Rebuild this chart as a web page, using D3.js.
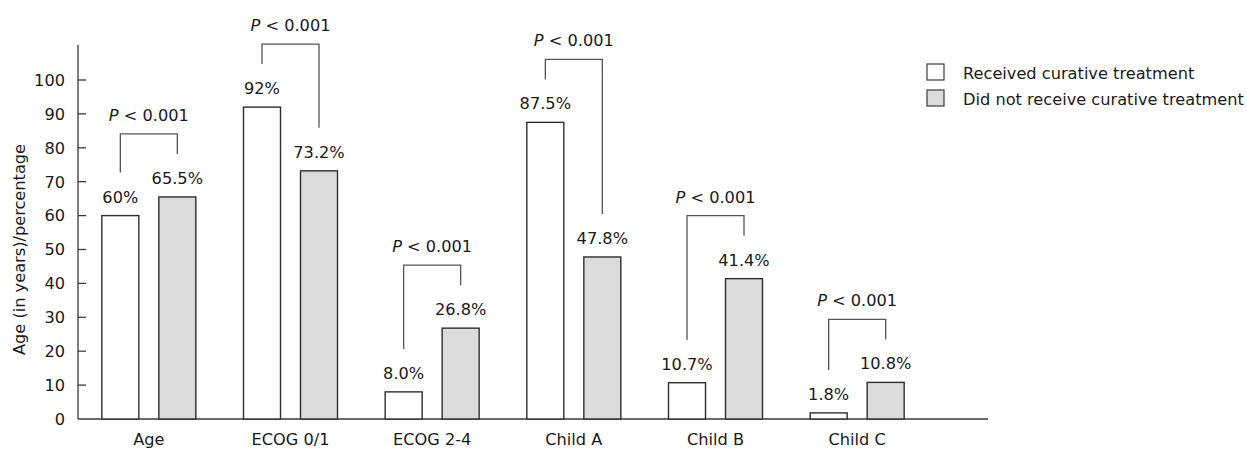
<!DOCTYPE html>
<html>
<head>
<meta charset="utf-8">
<script src="https://cdn.jsdelivr.net/npm/d3@7"></script>
<style>
  body { margin: 0; background: #fff; }
  text { font-family: "DejaVu Sans", Verdana, sans-serif; fill: #1a1a1a; }
</style>
</head>
<body>
<svg id="chart" width="1247" height="450"></svg>
<script>
const categories = ["Age", "ECOG 0/1", "ECOG 2-4", "Child A", "Child B", "Child C"];
const received = [60, 92, 8.0, 87.5, 10.7, 1.8];
const notReceived = [65.5, 73.2, 26.8, 47.8, 41.4, 10.8];
const receivedLabels = ["60%", "92%", "8.0%", "87.5%", "10.7%", "1.8%"];
const notReceivedLabels = ["65.5%", "73.2%", "26.8%", "47.8%", "41.4%", "10.8%"];
const pLabels = ["< 0.001", "< 0.001", "< 0.001", "< 0.001", "< 0.001", "< 0.001"];
const seriesNames = ["Received curative treatment", "Did not receive curative treatment"];
const yTicks = [0, 10, 20, 30, 40, 50, 60, 70, 80, 90, 100];

const svg = d3.select("#chart");
const fontSize = 16.2;
const axisColor = "#3a3a3a";
const fills = ["#ffffff", "#dadbda"];

const margin = { left: 78, top: 45, baseline: 419 };
const y = d3.scaleLinear().domain([0, 100]).range([margin.baseline, 80]);
const x = d3.scaleBand().domain(categories).range([78, 928]);
const barW = 37, gap = 20;

const data = categories.map((c, i) => ({
  cat: c,
  vals: [received[i], notReceived[i]],
  labels: [receivedLabels[i], notReceivedLabels[i]],
  p: pLabels[i]
}));

const barX = (d, j) => x(d.cat) + x.bandwidth() / 2 - gap / 2 - barW + j * (barW + gap);

// axes
svg.append("line")
  .attr("x1", margin.left).attr("x2", margin.left)
  .attr("y1", margin.top).attr("y2", margin.baseline)
  .attr("stroke", axisColor).attr("stroke-width", 1.3);
svg.append("line")
  .attr("x1", margin.left).attr("x2", 988)
  .attr("y1", margin.baseline).attr("y2", margin.baseline)
  .attr("stroke", axisColor).attr("stroke-width", 1.3);

const yAxis = svg.append("g");
yAxis.selectAll("line").data(yTicks.filter(t => t > 0)).join("line")
  .attr("x1", margin.left).attr("x2", margin.left + 8)
  .attr("y1", d => y(d)).attr("y2", d => y(d))
  .attr("stroke", axisColor).attr("stroke-width", 1.3);
yAxis.selectAll("text").data(yTicks).join("text")
  .attr("x", 65).attr("y", d => y(d)).attr("dy", "0.36em")
  .attr("text-anchor", "end").attr("font-size", fontSize)
  .text(d => d);

svg.append("text")
  .attr("transform", `translate(25,${(y(0) + y(100)) / 2}) rotate(-90)`)
  .attr("text-anchor", "middle").attr("font-size", fontSize)
  .text("Age (in years)/percentage");

svg.append("g").selectAll("text").data(categories).join("text")
  .attr("x", d => x(d) + x.bandwidth() / 2).attr("y", 445)
  .attr("text-anchor", "middle").attr("font-size", fontSize)
  .text(d => d);

// bars
const groups = svg.append("g").selectAll("g").data(data).join("g");
groups.selectAll("rect").data(d => d.vals.map((v, j) => ({ d, v, j }))).join("rect")
  .attr("x", o => barX(o.d, o.j))
  .attr("y", o => y(o.v))
  .attr("width", barW)
  .attr("height", o => y(0) - y(o.v))
  .attr("fill", o => fills[o.j])
  .attr("stroke", "#2e2e2e").attr("stroke-width", 1.4);

groups.selectAll("text.val").data(d => d.labels.map((l, j) => ({ d, l, j }))).join("text")
  .attr("class", "val")
  .attr("x", o => barX(o.d, o.j) + barW / 2)
  .attr("y", o => y(o.d.vals[o.j]) - 13)
  .attr("text-anchor", "middle").attr("font-size", fontSize)
  .text(o => o.l);

// significance brackets
groups.each(function (d) {
  const g = d3.select(this);
  const cx = [barX(d, 0) + barW / 2, barX(d, 1) + barW / 2];
  const top = y(d3.max(d.vals)) - 63;
  g.append("path")
    .attr("d", `M${cx[0]},${y(d.vals[0]) - 43}V${top}H${cx[1]}V${y(d.vals[1]) - 43}`)
    .attr("fill", "none").attr("stroke", "#555").attr("stroke-width", 1.3);
  const t = g.append("text")
    .attr("x", (cx[0] + cx[1]) / 2).attr("y", top - 13)
    .attr("text-anchor", "middle").attr("font-size", fontSize);
  t.append("tspan").attr("font-style", "italic").text("P");
  t.append("tspan").text(" " + d.p);
});

// legend
const legend = svg.append("g");
seriesNames.forEach((name, i) => {
  legend.append("rect")
    .attr("x", 927).attr("y", 64 + i * 26)
    .attr("width", 17).attr("height", 16)
    .attr("fill", fills[i]).attr("stroke", "#3a3a3a").attr("stroke-width", 1.2);
  legend.append("text")
    .attr("x", 963).attr("y", 79 + i * 26)
    .attr("font-size", fontSize)
    .text(name);
});
</script>
</body>
</html>
